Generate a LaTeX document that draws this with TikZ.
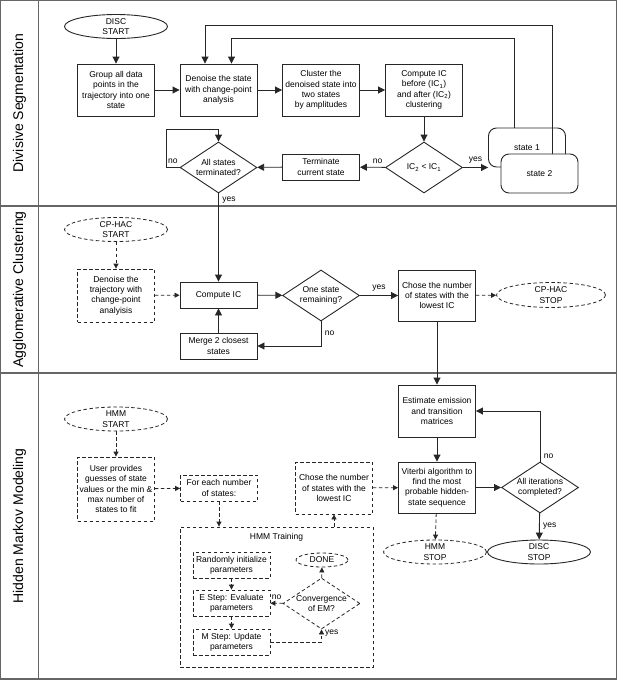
\documentclass[tikz,border=0pt]{standalone}
\usepackage{fontspec}
\setmainfont{Liberation Sans}
\usetikzlibrary{arrows.meta}
\usetikzlibrary{shapes.geometric}

\begin{document}
\begin{tikzpicture}[x=1pt,y=-1pt,>={Triangle[length=7pt,width=7pt]},
    line width=0.9pt,draw=black!85,
    font=\fontsize{8.5}{10.3}\selectfont,
    box/.style={draw,align=center,inner sep=0pt,minimum width=77pt,minimum height=26pt},
    dbox/.style={box,line width=0.8pt,dash pattern=on 3.5pt off 2.5pt},
    decision/.style={draw,diamond,aspect=1.5,align=center,inner sep=0pt,minimum width=77pt,minimum height=51pt},
    ddecision/.style={decision,line width=0.8pt,dash pattern=on 3.5pt off 2.5pt},
    terminal/.style={draw,ellipse,align=center,inner xsep=0pt,inner ysep=-2.5pt,minimum width=103pt,minimum height=24pt},
    dterminal/.style={terminal,line width=0.8pt,dash pattern=on 3.5pt off 2.5pt},
    statebox/.style={draw,fill=white,rounded corners=8pt,minimum width=77pt,minimum height=39pt},
    darrow/.style={line width=0.8pt,dash pattern=on 3.5pt off 2.5pt,-{Triangle[length=5pt,width=5pt]}},
    lane/.style={draw=black!60,line width=1.4pt},
    lanelabel/.style={rotate=90,font=\fontsize{14}{16}\selectfont}]
\useasboundingbox (0,0) rectangle (617,681);

% swim lanes
\draw[lane] (0.7,0.7) rectangle (616.3,679);
\draw[lane] (38.6,0.7) -- (38.6,679);
\draw[lane] (0.7,206) -- (616.3,206);
\draw[lane] (0.7,373) -- (616.3,373);
\node[lanelabel] (divlbl) at (19.5,103) {Divisive Segmentation};
\node[lanelabel] (agglbl) at (19.5,289.5) {Agglomerative Clustering};
\node[lanelabel] (hmmlbl) at (19.5,526) {Hidden Markov Modeling};

% divisive segmentation
\node[terminal] (dstart) at (116,26.5) {DISC\\START};
\node[box,minimum height=52pt] (group) at (116,90) {Group all data\\points in the\\trajectory into one\\state};
\node[box,minimum height=52pt] (denoise) at (218.5,90) {Denoise the state\\with change-point\\analysis};
\node[box,minimum height=52pt] (cluster) at (321,90) {Cluster the\\denoised state into\\two states\\by amplitudes};
\node[box,minimum height=52pt] (compic) at (424,90) {Compute IC\\before (IC\textsubscript{1})\\and after (IC\textsubscript{2})\\clustering};
\node[decision] (icdec) at (424,167.5) {IC\textsubscript{2} < IC\textsubscript{1}};
\node[box] (term) at (321,167) {Terminate\\current state};
\node[decision] (alldec) at (218.5,167.5) {All states\\terminated?};
\node[statebox] (state1) at (527,147.5) {state 1};
\node[statebox] (state2) at (539.5,173.5) {state 2};

\draw[->] (dstart) -- (group);
\draw[->] (group) -- (denoise);
\draw[->] (denoise) -- (cluster);
\draw[->] (cluster) -- (compic);
\draw[->] (compic) -- (icdec);
\draw[->] (icdec) -- node[above,pos=0.3]{no} (term);
\draw[->] (term) -- (alldec);
\draw[->] (icdec.east) -- node[above]{yes} (state1.west |- icdec.east);
\draw[->] (alldec.west) -- node[above]{no} ++(-13.5,0) -- ++(0,-38.5) -| (alldec.north);
\draw[->] ([xshift=12.5pt]state2.north) -- ++(0,-128) -| ([xshift=-13.5pt]denoise.north);
\draw[->] ([xshift=-13pt]state1.north) -- ++(0,-89) -| ([xshift=13pt]denoise.north);

% agglomerative clustering
\node[dterminal] (cpstart) at (116,229.5) {CP-HAC\\START};
\node[dbox,minimum height=53pt] (dtraj) at (116,295.5) {Denoise the\\trajectory with\\change-point\\analyisis};
\node[box] (cic) at (218.5,295) {Compute IC};
\node[decision] (onedec) at (321,295.5) {One state\\remaining?};
\node[box,minimum height=51pt] (chose) at (437,295.5) {Chose the number\\of states with the\\lowest IC};
\node[dterminal,minimum width=109pt,minimum height=25pt] (cpstop) at (551,295) {CP-HAC\\STOP};
\node[box] (merge) at (218.5,346) {Merge 2 closest\\states};

\draw[->] (alldec.south) -- node[right,pos=0.07]{yes} (cic.north);
\draw[darrow] (cpstart) -- (dtraj);
\draw[darrow] (dtraj) -- (cic);
\draw[->] (cic) -- (onedec);
\draw[->] (onedec) -- node[above]{yes} (chose);
\draw[darrow] (chose) -- (cpstop);
\draw[->] (onedec.south) |- node[right,pos=0.25]{no} (merge.east);
\draw[->] (merge) -- (cic);

% hidden markov modeling
\node[box,minimum height=52pt] (estimate) at (437,411) {Estimate emission\\and transition\\matrices};
\node[box,minimum height=51pt] (viterbi) at (437,487.5) {Viterbi algorithm to\\find the most\\probable hidden-\\state sequence};
\node[decision] (itdec) at (540,487.5) {All iterations\\completed?};
\node[terminal] (discstop) at (539,552) {DISC\\STOP};
\node[dterminal] (hmmstop) at (435,552) {HMM\\STOP};
\node[dterminal] (hmmstart) at (116,419) {HMM\\START};
\node[dbox,minimum height=64pt] (user) at (116,489) {User provides\\guesses of state\\values or the min \&\\max number of\\states to fit};
\node[dbox] (foreach) at (219,488) {For each number\\of states:};
\node[dbox,minimum height=52pt] (chosehmm) at (334,488) {Chose the number\\of states with the\\lowest IC};
\node[dbox,minimum width=193pt,minimum height=140pt] (training) at (276.5,597) {};
\node[below=2.5pt] (traininglbl) at (training.north) {HMM Training};
\node[dbox] (rand) at (231.5,565) {Randomly initialize\\parameters};
\node[dbox] (estep) at (231.5,603) {E Step: Evaluate\\parameters};
\node[dbox] (mstep) at (231.5,642) {M Step: Update\\parameters};
\node[dterminal,minimum width=52pt,minimum height=14pt] (done) at (322,560) {DONE};
\node[ddecision] (convdec) at (321.5,603.5) {Convergence\\of EM?};

\draw[->] (chose) -- (estimate);
\draw[->] (estimate) -- (viterbi);
\draw[->] (viterbi) -- (itdec);
\draw[->] (itdec.north) |- node[right,pos=0.05]{no} (estimate.east);
\draw[->] (itdec) -- node[right]{yes} (discstop);
\draw[darrow] (viterbi) -- (hmmstop);
\draw[darrow] (hmmstart) -- (user);
\draw[darrow] (user) -- (foreach);
\draw[darrow] (chosehmm) -- (viterbi);
\draw[darrow] (foreach.south) -- (foreach.south |- training.north);
\draw[darrow] (chosehmm.south |- training.north) -- (chosehmm.south);
\draw[darrow] (rand) -- (estep);
\draw[darrow] (estep) -- (mstep);
\draw[darrow] (convdec) -- (done);
\draw[darrow] (convdec) -- node[above]{no} (estep);
\draw[darrow] (mstep.east) -| node[right,pos=0.85]{yes} (convdec.south);
\end{tikzpicture}
\end{document}
